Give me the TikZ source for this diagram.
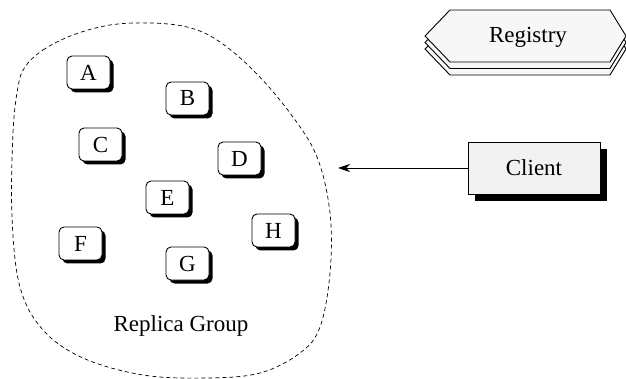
\documentclass[tikz,border=0pt]{standalone}
\usepackage{fontspec}
\setmainfont{Liberation Serif}
\usetikzlibrary{shadows,arrows.meta}
\begin{document}
\begin{tikzpicture}[x=1pt,y=-1pt,
  font=\fontsize{23}{26}\selectfont,
  replica/.style={draw,line width=0.9pt,fill=white,rounded corners=5pt,
    minimum width=43pt,minimum height=33pt,inner sep=0pt,
    drop shadow={shadow xshift=3.5pt,shadow yshift=-3.5pt,fill=black,opacity=1}},
  clientbox/.style={draw,line width=0.9pt,fill=gray!10,
    minimum width=132pt,minimum height=52pt,inner sep=0pt,
    drop shadow={shadow xshift=7pt,shadow yshift=-7pt,fill=black,opacity=1}},
  hexlayer/.style={draw,line width=0.9pt,fill=gray!6},
  groupline/.style={draw,line width=0.7pt,dash pattern=on 4pt off 3pt}]
\useasboundingbox (0,0) rectangle (626,379);

% group boundary
\draw[groupline] plot[smooth cycle,tension=0.6] coordinates{
  (25,67) (43,50) (73,35) (110,25) (150,23) (187,27) (217,40) (253,70)
  (290,113) (317,157) (330,213) (330,273) (320,327) (300,353) (260,373)
  (207,378) (143,375) (83,358) (43,330) (20,287) (12,217) (13,133) (18,87)};

% replicas
\node[replica] (A) at (88.5,72.5) {A};
\node[replica] (B) at (187.5,98.5) {B};
\node[replica] (C) at (100.5,144.5) {C};
\node[replica] (D) at (239.5,158.5) {D};
\node[replica] (E) at (167.5,197.5) {E};
\node[replica] (F) at (80.5,243.5) {F};
\node[replica] (G) at (187.5,263.5) {G};
\node[replica] (H) at (273.5,230.5) {H};
\node (grp) at (181,326) {Replica Group};

% stacked registry
\foreach \dy in {13,6.5,0}{
  \draw[hexlayer] (425,36+\dy) -- (450,10+\dy) -- (610,10+\dy) -- (626,36+\dy)
    -- (610,62+\dy) -- (450,62+\dy) -- cycle;
}
\node (reg) at (528,37) {Registry};

% client
\node[clientbox] (client) at (534,168) {Client};
\coordinate (target) at (338,168);
\draw[line width=0.8pt,-{Stealth[length=12pt,width=8pt]}] (client.west) -- (target);
\end{tikzpicture}
\end{document}
